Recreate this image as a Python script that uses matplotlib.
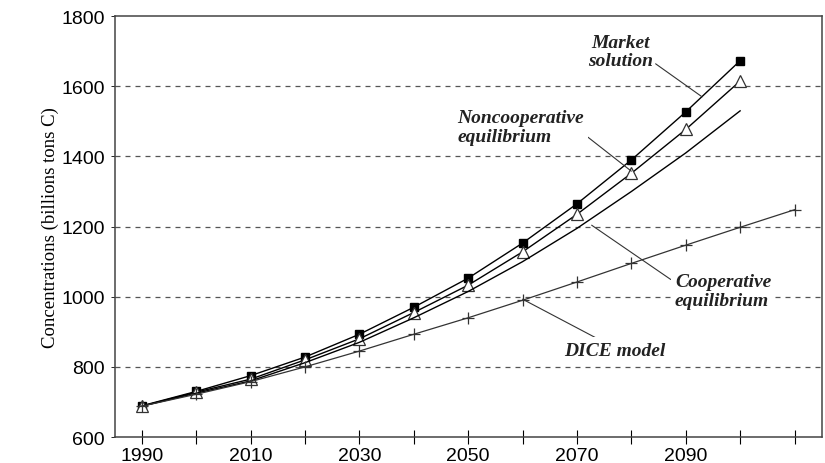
import numpy as np
import matplotlib.pyplot as plt

#<-------------------------------Datos------------------------------->
years=np.arange(1990,2101,10)
years_dice=np.arange(1990,2111,10)
market=[689,730,775,828,893,970,1053,1153,1265,1390,1527,1673]
noncoop=[688,728,765,820,880,955,1033,1128,1235,1352,1477,1615]
coop=[688,725,760,812,870,940,1015,1100,1195,1300,1410,1530]
dice=[688,722,758,800,845,893,940,990,1042,1095,1147,1198,1248]
xtick_labels=["1990","","2010","","2030","","2050","","2070","","2090","",""]

fig=plt.figure(figsize=(8.25,4.64),dpi=100)
ax=fig.add_axes([0.139,0.056,0.857,0.907])

#<-------------------------------Curvas------------------------------->
ax.plot(years,market,color="black",lw=1,marker="s",ms=6,mfc="black",zorder=3)
ax.plot(years,noncoop,color="black",lw=1,marker="^",ms=8,mfc="white",mec="#333333",mew=0.9,zorder=3)
ax.plot(years,coop,color="black",lw=1,zorder=3)
ax.plot(years_dice,dice,color="#333333",lw=0.9,marker="+",ms=8,mew=0.9,zorder=3)

#<-------------------------------Limites y ticks------------------------------->
ax.set_xlim(1985,2115);ax.set_ylim(600,1800)
ax.set_xticks(years_dice);ax.set_xticklabels(xtick_labels)
ax.set_yticks(np.arange(600,1801,200))
ax.tick_params(axis="x",direction="inout",length=10,width=0.8,labelsize=14,pad=2)
ax.tick_params(axis="y",direction="out",length=3,width=0.6,labelsize=14,pad=4)
for lbl in ax.get_xticklabels()+ax.get_yticklabels():
    lbl.set_family("Liberation Sans")
for y in range(800,1700,200):
    ax.axhline(y,ls=(0,(4,4)),color="#555555",lw=0.9,zorder=1)
for s in ax.spines.values():
    s.set_color("#444444");s.set_linewidth(1.1)
ax.set_ylabel("Concentrations (billions tons C)",family="Liberation Serif",fontsize=13.5,labelpad=2)

#<-------------------------------Etiquetas------------------------------->
font=dict(family="Liberation Serif",style="italic",weight="bold",fontsize=14,color="#222222",linespacing=1.1)
box=dict(facecolor="white",edgecolor="none",pad=3)
arrow=dict(arrowstyle="-",color="#333333",lw=0.8,shrinkA=0,shrinkB=0)
ax.annotate("Market\nsolution",xy=(2093,1570),xytext=(2072,1700),ha="left",va="center",multialignment="center",
            arrowprops=dict(relpos=(1,0.2),**arrow),**font)
ax.annotate("Noncooperative\nequilibrium",xy=(2080,1358),xytext=(2048,1484),ha="left",va="center",
            bbox=box,arrowprops=dict(relpos=(1,0.3),**arrow),**font)
ax.annotate("Cooperative\nequilibrium",xy=(2072.7,1204),xytext=(2088,1016),ha="left",va="center",
            bbox=box,arrowprops=dict(relpos=(0,0.75),**arrow),**font)
ax.annotate("DICE model",xy=(2060,993),xytext=(2067.7,848),ha="left",va="center",
            bbox=box,arrowprops=dict(relpos=(0.38,1),**arrow),**font)

plt.savefig("out.png",dpi=100)
